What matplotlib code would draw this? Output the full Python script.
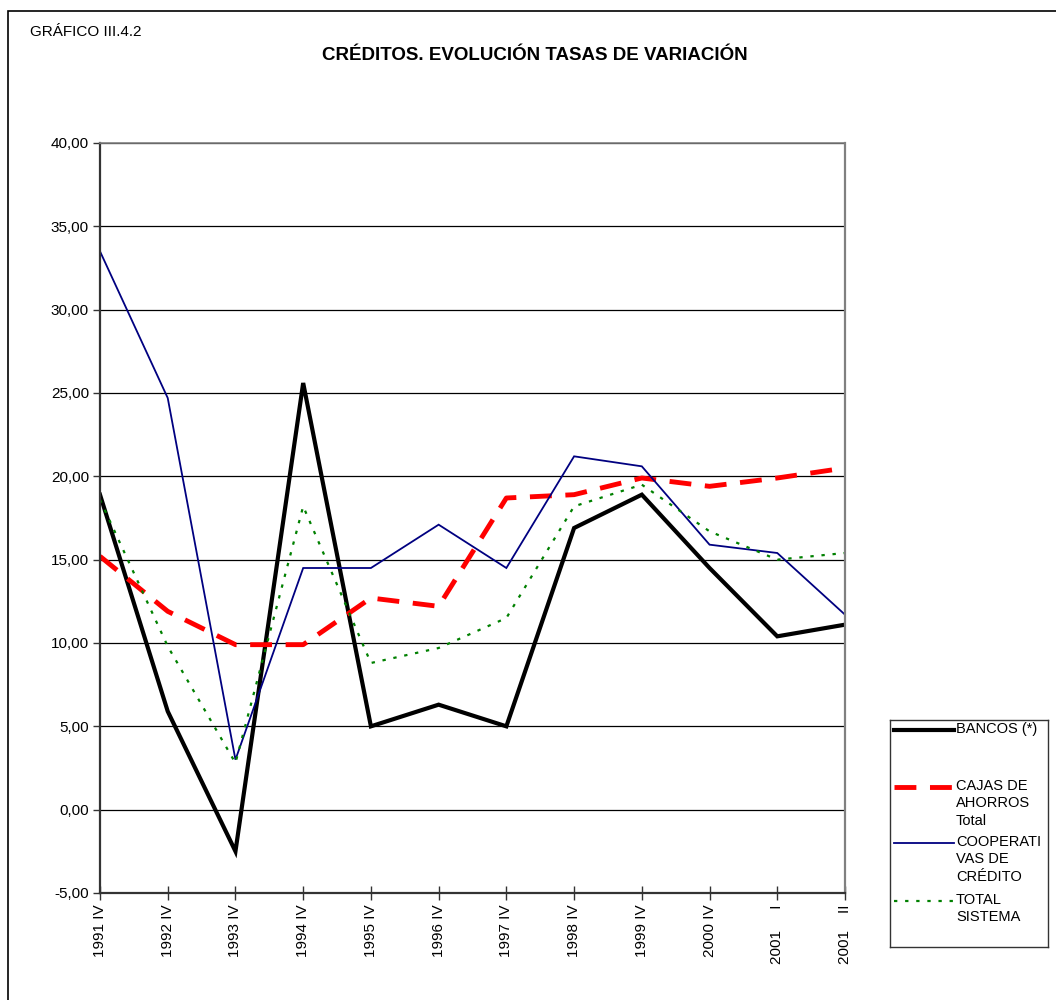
import matplotlib.pyplot as plt
from matplotlib.patches import Rectangle

plt.rcParams['font.family'] = ['Liberation Sans', 'DejaVu Sans']

periodos = ['1991 IV', '1992 IV', '1993 IV', '1994 IV', '1995 IV', '1996 IV',
            '1997 IV', '1998 IV', '1999 IV', '2000 IV', '2001     I', '2001    II']

bancos = [18.9, 5.9, -2.5, 25.6, 5.0, 6.3, 5.0, 16.9, 18.9, 14.5, 10.4, 11.1]
cajas = [15.2, 11.9, 9.9, 9.9, 12.7, 12.2, 18.7, 18.9, 19.9, 19.4, 19.9, 20.5]
cooperativas = [33.5, 24.7, 3.0, 14.5, 14.5, 17.1, 14.5, 21.2, 20.6, 15.9, 15.4, 11.7]
total = [18.6, 9.8, 2.8, 18.2, 8.8, 9.7, 11.5, 18.2, 19.5, 16.7, 15.0, 15.4]

series = [
    ('BANCOS (*)', bancos, dict(color='black', lw=3.0, ls='-')),
    ('CAJAS DE\nAHORROS\nTotal', cajas, dict(color='#ff0000', lw=3.5, ls=(0, (4.5, 2.8)))),
    ('COOPERATI\nVAS DE\nCRÉDITO', cooperativas, dict(color='#000080', lw=1.3, ls='-')),
    ('TOTAL\nSISTEMA', total, dict(color='#008000', lw=1.6, ls=(0, (1.5, 3.5)))),
]

fig = plt.figure(figsize=(10.56, 10.0), dpi=100)

# marco exterior
fig.patches.append(Rectangle((8 / 1056, -0.1), 1.2, 1 - 11 / 1000 + 0.1,
                             transform=fig.transFigure, fill=False,
                             edgecolor='black', lw=1.2))

fig.text(30 / 1056, 1 - 32 / 1000, 'GRÁFICO III.4.2', fontsize=11, va='center')
fig.text(535 / 1056, 1 - 56 / 1000, 'CRÉDITOS. EVOLUCIÓN TASAS DE VARIACIÓN',
         fontsize=13.5, fontweight='bold', ha='center', va='center')

ax = fig.add_axes([100 / 1056, 1 - 893 / 1000, 745 / 1056, 750 / 1000])
x = list(range(len(periodos)))
for nombre, vals, estilo in series:
    ax.plot(x, vals, **estilo, solid_joinstyle='miter', dash_capstyle='butt')

ax.set_xlim(0, len(periodos) - 1)
ax.set_ylim(-5, 40)
ax.set_yticks(range(-5, 41, 5))
ax.set_yticklabels([f'{v:.2f}'.replace('.', ',') for v in range(-5, 41, 5)], fontsize=11)
ax.set_xticks(x)
ax.set_xticklabels(periodos, rotation=90, fontsize=11)
ax.yaxis.grid(True, color='black', lw=0.9)
ax.set_axisbelow(True)
ax.tick_params(axis='both', direction='out', length=5, width=1, color='#333333', pad=3)
ax.tick_params(axis='x', direction='inout', length=10)
for lado in ['left', 'bottom']:
    ax.spines[lado].set_color('#333333')
    ax.spines[lado].set_linewidth(1.6)
ax.spines['right'].set_color('#808080')
ax.spines['right'].set_linewidth(1.6)
ax.spines['top'].set_color('#808080')
ax.spines['top'].set_linewidth(1.2)

# leyenda
lax = fig.add_axes([890 / 1056, 1 - 947 / 1000, 158 / 1056, 227 / 1000])
lax.set_xlim(0, 158)
lax.set_ylim(227, 0)
lax.set_xticks([])
lax.set_yticks([])
for s in lax.spines.values():
    s.set_color('#333333')
    s.set_linewidth(1.0)
filas = [10, 67, 123, 181]
for (nombre, vals, estilo), yf in zip(series, filas):
    lax.plot([4, 64], [yf, yf], **estilo, dash_capstyle='butt')
    lax.text(66, yf - 8, nombre, fontsize=10.5, va='top', ha='left', linespacing=1.3)

fig.savefig('out.png', dpi=100)
